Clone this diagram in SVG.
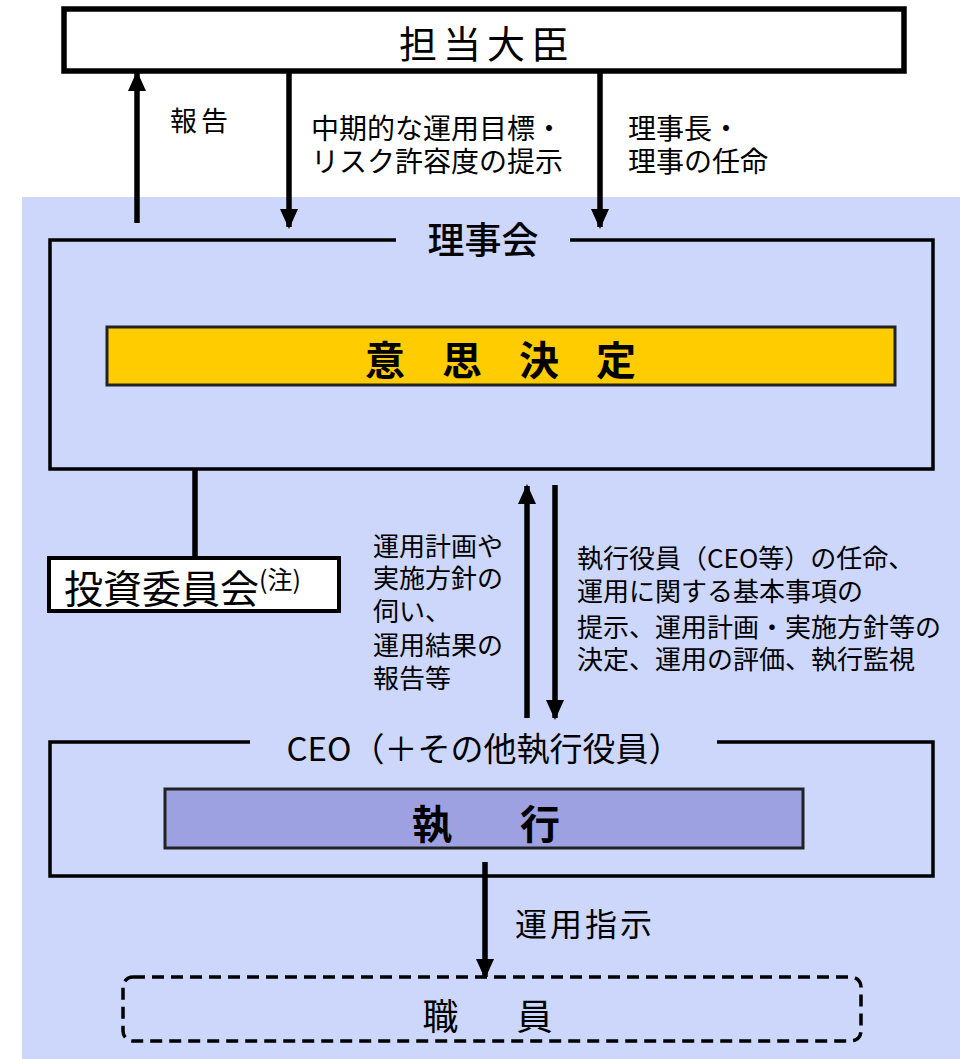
<svg xmlns="http://www.w3.org/2000/svg" width="966" height="1059" viewBox="0 0 966 1059">
<style>
text{font-family:"Noto Sans CJK JP","Noto Sans",sans-serif;fill:#000}
.box{fill:none;stroke:#000;stroke-width:3.5}
.conn{stroke:#000;stroke-width:5.5;fill:none}
.lbl{font-size:26px}
</style>
<defs>
<marker id="ah" viewBox="0 0 20 20" refX="18" refY="10" markerWidth="20" markerHeight="20" markerUnits="userSpaceOnUse" orient="auto">
<path d="M0,1 L20,10 L0,19 Z" fill="#000"/>
</marker>
</defs>
<rect x="0" y="0" width="966" height="1059" fill="#fff"/>
<rect x="22" y="197" width="938" height="862" fill="#cdd7fb"/>

<g id="minister">
<rect x="64" y="9" width="840" height="62" fill="#fff" stroke="#000" stroke-width="5.5"/>
<text x="487" y="58" font-size="38" text-anchor="middle" letter-spacing="6">担当大臣</text>
</g>

<g id="board">
<path class="box" d="M396,240 H50 V469 H933 V240 H570"/>
<text x="483" y="254" font-size="37" text-anchor="middle" font-weight="500">理事会</text>
</g>

<g id="decision">
<rect x="107" y="327" width="788" height="58" fill="#ffcc00" stroke="#222" stroke-width="3"/>
<text x="519" y="375" font-size="40" font-weight="bold" text-anchor="middle" letter-spacing="37">意思決定</text>
</g>

<g id="investment-committee">
<rect x="49" y="558" width="290" height="53" fill="#fff" stroke="#000" stroke-width="4"/>
<text x="64" y="603" font-size="39">投資委員会<tspan font-size="25" dy="-14">(注)</tspan></text>
</g>

<g id="ceo">
<path class="box" d="M250,742 H50 V876 H933 V742 H717"/>
<text x="484" y="761" font-size="33" text-anchor="middle">CEO（＋その他執行役員）</text>
</g>

<g id="execution">
<rect x="165" y="789" width="638" height="59" fill="#9da1e1" stroke="#222" stroke-width="3"/>
<text x="493" y="839" font-size="40" font-weight="bold" text-anchor="middle" letter-spacing="14">執　行</text>
</g>

<g id="staff">
<rect x="123" y="977" width="738" height="64" rx="10" ry="10" fill="none" stroke="#000" stroke-width="3.5" stroke-dasharray="12,7"/>
<text x="493" y="1030" font-size="36" text-anchor="middle" letter-spacing="11">職　員</text>
</g>

<g id="connectors">
<line class="conn" x1="137" y1="223" x2="137" y2="73" marker-end="url(#ah)"/>
<line class="conn" x1="289" y1="73" x2="289" y2="227" marker-end="url(#ah)"/>
<line class="conn" x1="600" y1="73" x2="600" y2="227" marker-end="url(#ah)"/>
<line class="conn" x1="195" y1="470" x2="195" y2="557"/>
<line class="conn" x1="527" y1="718" x2="527" y2="486" marker-end="url(#ah)"/>
<line class="conn" x1="555" y1="485" x2="555" y2="718" marker-end="url(#ah)"/>
<line class="conn" x1="485" y1="862" x2="485" y2="977" marker-end="url(#ah)"/>
</g>

<g id="labels">
<text x="170" y="131" font-size="27" letter-spacing="4">報告</text>
<text font-size="28"><tspan x="311" y="139">中期的な運用目標・</tspan><tspan x="311" y="172">リスク許容度の提示</tspan></text>
<text font-size="28"><tspan x="628" y="139">理事長・</tspan><tspan x="628" y="172">理事の任命</tspan></text>
<text class="lbl"><tspan x="373" y="556">運用計画や</tspan><tspan x="373" y="588">実施方針の</tspan><tspan x="373" y="621">伺い、</tspan><tspan x="373" y="655">運用結果の</tspan><tspan x="373" y="688">報告等</tspan></text>
<text class="lbl"><tspan x="577" y="568">執行役員（CEO等）の任命、</tspan><tspan x="577" y="601">運用に関する基本事項の</tspan><tspan x="577" y="637">提示、運用計画・実施方針等の</tspan><tspan x="577" y="669">決定、運用の評価、執行監視</tspan></text>
<text x="515" y="936" font-size="32" letter-spacing="3">運用指示</text>
</g>
</svg>
